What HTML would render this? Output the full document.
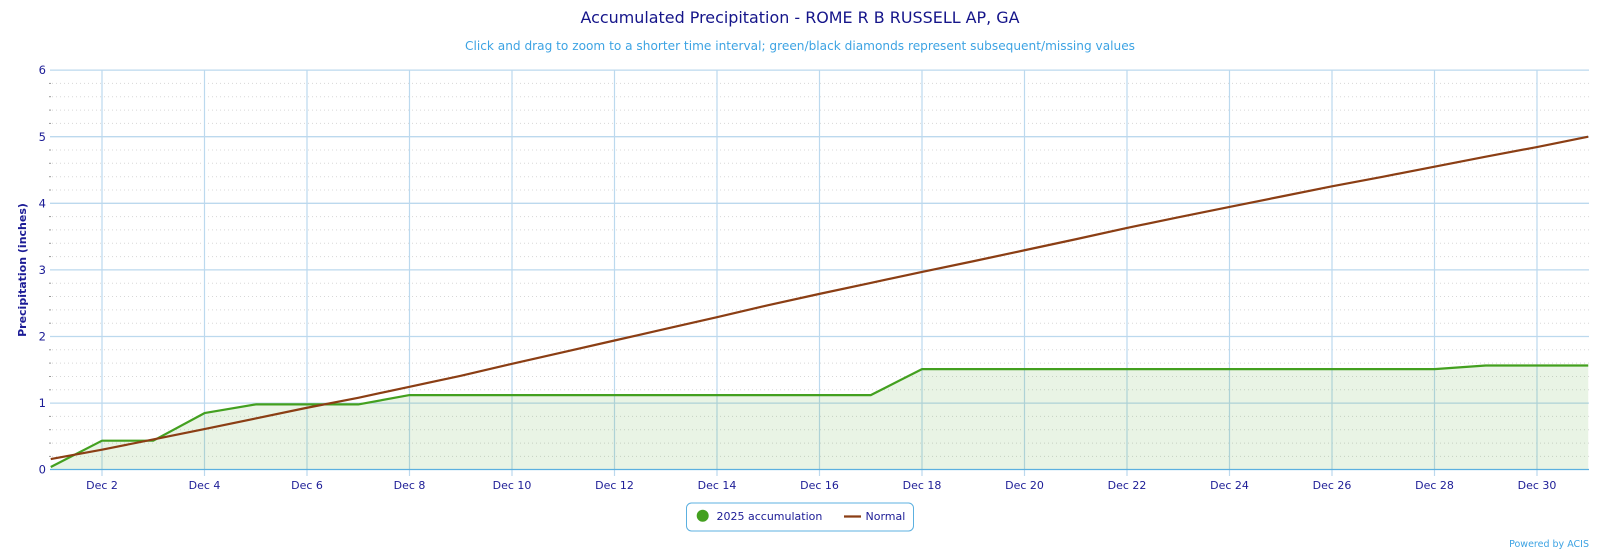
<!DOCTYPE html>
<html><head><meta charset="utf-8"><style>
html,body{margin:0;padding:0;background:#fff;}
svg{display:block;font-family:"DejaVu Sans","Liberation Sans",sans-serif;}
</style></head><body>
<svg width="1600" height="552" viewBox="0 0 1600 552" xmlns="http://www.w3.org/2000/svg">
<rect width="1600" height="552" fill="#fff"/>
<text x="800" y="23" text-anchor="middle" font-size="16" fill="#15158a" textLength="439" lengthAdjust="spacingAndGlyphs">Accumulated Precipitation - ROME R B RUSSELL AP, GA</text>
<text x="800" y="50" text-anchor="middle" font-size="12" fill="#3da3e3" textLength="670" lengthAdjust="spacingAndGlyphs">Click and drag to zoom to a shorter time interval; green/black diamonds represent subsequent/missing values</text>

<!-- minor dotted grid -->
<g stroke="#d8d8d8" stroke-width="1" stroke-dasharray="1,3">
<line x1="52" x2="1589" y1="456.4" y2="456.4"/><line x1="52" x2="1589" y1="443.1" y2="443.1"/><line x1="52" x2="1589" y1="429.7" y2="429.7"/><line x1="52" x2="1589" y1="416.4" y2="416.4"/>
<line x1="52" x2="1589" y1="389.8" y2="389.8"/><line x1="52" x2="1589" y1="376.5" y2="376.5"/><line x1="52" x2="1589" y1="363.1" y2="363.1"/><line x1="52" x2="1589" y1="349.8" y2="349.8"/>
<line x1="52" x2="1589" y1="323.2" y2="323.2"/><line x1="52" x2="1589" y1="309.9" y2="309.9"/><line x1="52" x2="1589" y1="296.5" y2="296.5"/><line x1="52" x2="1589" y1="283.2" y2="283.2"/>
<line x1="52" x2="1589" y1="256.6" y2="256.6"/><line x1="52" x2="1589" y1="243.3" y2="243.3"/><line x1="52" x2="1589" y1="229.9" y2="229.9"/><line x1="52" x2="1589" y1="216.6" y2="216.6"/>
<line x1="52" x2="1589" y1="190.0" y2="190.0"/><line x1="52" x2="1589" y1="176.7" y2="176.7"/><line x1="52" x2="1589" y1="163.3" y2="163.3"/><line x1="52" x2="1589" y1="150.0" y2="150.0"/>
<line x1="52" x2="1589" y1="123.4" y2="123.4"/><line x1="52" x2="1589" y1="110.1" y2="110.1"/><line x1="52" x2="1589" y1="96.7" y2="96.7"/><line x1="52" x2="1589" y1="83.4" y2="83.4"/>
</g>
<!-- minor ticks -->
<g stroke="#999" stroke-width="1">
<line x1="49" x2="51" y1="456.4" y2="456.4"/><line x1="49" x2="51" y1="443.1" y2="443.1"/><line x1="49" x2="51" y1="429.7" y2="429.7"/><line x1="49" x2="51" y1="416.4" y2="416.4"/>
<line x1="49" x2="51" y1="389.8" y2="389.8"/><line x1="49" x2="51" y1="376.5" y2="376.5"/><line x1="49" x2="51" y1="363.1" y2="363.1"/><line x1="49" x2="51" y1="349.8" y2="349.8"/>
<line x1="49" x2="51" y1="323.2" y2="323.2"/><line x1="49" x2="51" y1="309.9" y2="309.9"/><line x1="49" x2="51" y1="296.5" y2="296.5"/><line x1="49" x2="51" y1="283.2" y2="283.2"/>
<line x1="49" x2="51" y1="256.6" y2="256.6"/><line x1="49" x2="51" y1="243.3" y2="243.3"/><line x1="49" x2="51" y1="229.9" y2="229.9"/><line x1="49" x2="51" y1="216.6" y2="216.6"/>
<line x1="49" x2="51" y1="190.0" y2="190.0"/><line x1="49" x2="51" y1="176.7" y2="176.7"/><line x1="49" x2="51" y1="163.3" y2="163.3"/><line x1="49" x2="51" y1="150.0" y2="150.0"/>
<line x1="49" x2="51" y1="123.4" y2="123.4"/><line x1="49" x2="51" y1="110.1" y2="110.1"/><line x1="49" x2="51" y1="96.7" y2="96.7"/><line x1="49" x2="51" y1="83.4" y2="83.4"/>
</g>
<!-- major horizontal grid -->
<g stroke="#bcd9ee" stroke-width="1.3">
<line x1="50" x2="1589" y1="403.1" y2="403.1"/><line x1="50" x2="1589" y1="336.5" y2="336.5"/><line x1="50" x2="1589" y1="269.9" y2="269.9"/><line x1="50" x2="1589" y1="203.3" y2="203.3"/><line x1="50" x2="1589" y1="136.7" y2="136.7"/><line x1="50" x2="1589" y1="70.1" y2="70.1"/>
</g>
<!-- vertical grid -->
<g stroke="#bcd9ee" stroke-width="1.2">
<line x1="102" x2="102" y1="70" y2="476"/><line x1="204.5" x2="204.5" y1="70" y2="476"/><line x1="307" x2="307" y1="70" y2="476"/><line x1="409.5" x2="409.5" y1="70" y2="476"/><line x1="512" x2="512" y1="70" y2="476"/><line x1="614.5" x2="614.5" y1="70" y2="476"/><line x1="717" x2="717" y1="70" y2="476"/><line x1="819.5" x2="819.5" y1="70" y2="476"/><line x1="922" x2="922" y1="70" y2="476"/><line x1="1024.5" x2="1024.5" y1="70" y2="476"/><line x1="1127" x2="1127" y1="70" y2="476"/><line x1="1229.5" x2="1229.5" y1="70" y2="476"/><line x1="1332" x2="1332" y1="70" y2="476"/><line x1="1434.5" x2="1434.5" y1="70" y2="476"/><line x1="1537" x2="1537" y1="70" y2="476"/>
</g>

<!-- area fill -->
<path d="M50.75,467.0 L102,440.7 L153.25,440.7 L204.5,413.1 L255.75,404.4 L358.25,404.4 L409.5,395.1 L870.75,395.1 L922,369.1 L1434.5,369.1 L1485.75,365.5 L1588.25,365.5 L1588.25,469.5 L50.75,469.5 Z" fill="rgba(74,165,44,0.12)"/>

<!-- x axis -->
<line x1="50" x2="1589" y1="469.5" y2="469.5" stroke="#5cb0e0" stroke-width="1.3"/>

<!-- green line -->
<polyline fill="none" stroke="#43a01f" stroke-width="2.2" stroke-linejoin="round" points="50.75,467.0 102,440.7 153.25,440.7 204.5,413.1 255.75,404.4 358.25,404.4 409.5,395.1 870.75,395.1 922,369.1 1434.5,369.1 1485.75,365.5 1588.25,365.5"/>

<!-- normal line -->
<polyline fill="none" stroke="#8b3e14" stroke-width="2.2" stroke-linejoin="round" points="50.75,459.04 102,449.72 153.25,439.40 204.5,429.07 255.75,418.42 307,407.76 358.25,397.77 409.5,386.78 460.75,375.79 512,363.81 563.25,352.15 614.5,340.50 665.75,328.84 717,317.19 768.25,305.20 819.5,293.88 870.75,282.89 922,271.90 973.25,261.24 1024.5,250.25 1075.75,239.26 1127,227.94 1178.25,217.29 1229.5,206.96 1280.75,196.64 1332,186.32 1383.25,176.66 1434.5,166.67 1485.75,156.68 1537,147.02 1588.25,136.70"/>

<!-- y tick labels -->
<g font-size="11.5" fill="#1c1c96" text-anchor="end">
<text x="46" y="473.5">0</text><text x="46" y="407">1</text><text x="46" y="340.5">2</text><text x="46" y="274">3</text><text x="46" y="207.5">4</text><text x="46" y="141">5</text><text x="46" y="74">6</text>
</g>
<text transform="translate(26,270) rotate(-90)" text-anchor="middle" font-size="11" font-weight="bold" fill="#1c1c96">Precipitation (inches)</text>

<!-- x tick labels -->
<g font-size="11" fill="#1c1c96" text-anchor="middle">
<text x="102" y="489">Dec 2</text><text x="204.5" y="489">Dec 4</text><text x="307" y="489">Dec 6</text><text x="409.5" y="489">Dec 8</text><text x="512" y="489">Dec 10</text><text x="614.5" y="489">Dec 12</text><text x="717" y="489">Dec 14</text><text x="819.5" y="489">Dec 16</text><text x="922" y="489">Dec 18</text><text x="1024.5" y="489">Dec 20</text><text x="1127" y="489">Dec 22</text><text x="1229.5" y="489">Dec 24</text><text x="1332" y="489">Dec 26</text><text x="1434.5" y="489">Dec 28</text><text x="1537" y="489">Dec 30</text>
</g>

<!-- legend -->
<rect x="686.5" y="503" width="227" height="28" rx="5" ry="5" fill="#fff" stroke="#5cb0e0" stroke-width="1"/>
<circle cx="702.7" cy="515.8" r="6" fill="#43a01f"/>
<text x="716.5" y="520" font-size="11" fill="#1c1c96">2025 accumulation</text>
<line x1="844" x2="861" y1="516.5" y2="516.5" stroke="#8b3e14" stroke-width="2.2"/>
<text x="865.5" y="520" font-size="11" fill="#1c1c96">Normal</text>

<text x="1589" y="547" text-anchor="end" font-size="9.5" fill="#3da3e3">Powered by ACIS</text>
</svg>
</body></html>
